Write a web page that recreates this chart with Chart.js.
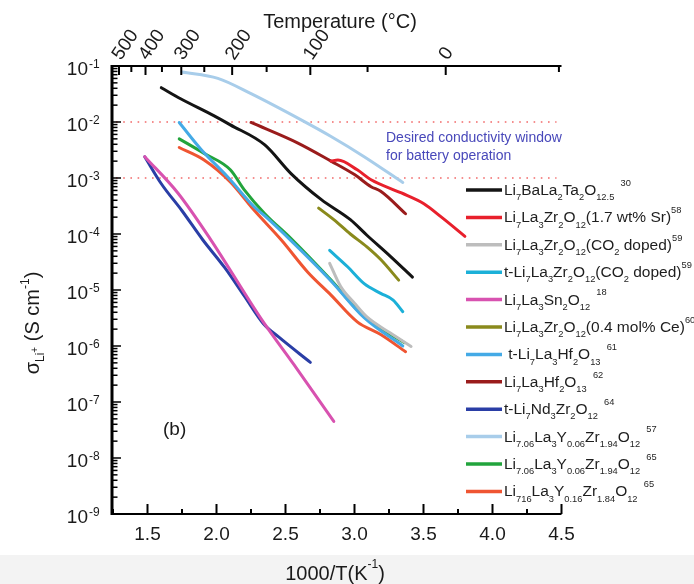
<!DOCTYPE html>
<html>
<head>
<meta charset="utf-8">
<script src="https://cdn.jsdelivr.net/npm/chart.js@4.4.0/dist/chart.umd.min.js"></script>
<style>
  html, body { margin: 0; padding: 0; background: #fff; }
  #wrap { width: 694px; height: 584px; }
</style>
</head>
<body>
<div id="wrap"><canvas id="chart" width="694" height="584"></canvas></div>
<script>
// axis ranges and ticks
const xMin = 1.25, xMax = 4.5;
const yMin = 1e-9, yMax = 1e-1;
const xTickMajor = [1.5, 2.0, 2.5, 3.0, 3.5, 4.0, 4.5];
const xTickLabels = ['1.5', '2.0', '2.5', '3.0', '3.5', '4.0', '4.5'];
const xTickMinor = [1.25, 1.75, 2.25, 2.75, 3.25, 3.75, 4.25];
const yDecades = [-9, -8, -7, -6, -5, -4, -3, -2, -1];
const tempMajor = [500, 400, 300, 200, 100, 0];
const tempMinor = [450, 350, 250, 150, 50, -50];
const windowLevels = [1e-2, 1e-3];

// series (x = 1000/T, y = conductivity S/cm)
const xBaTa = [1.60, 1.74, 1.98, 2.10, 2.35, 2.54, 2.76, 2.97, 3.09, 3.26, 3.42];
const yBaTa = [4.1e-2, 2.6e-2, 1.3e-2, 8.9e-3, 3.9e-3, 1.2e-3, 4.1e-4, 1.8e-4, 9.5e-5, 4.0e-5, 1.7e-5];
const xSr = [2.83, 2.88, 3.02, 3.12, 3.34, 3.50, 3.63, 3.80];
const ySr = [2.0e-3, 2.1e-3, 1.4e-3, 9.3e-4, 5.4e-4, 3.5e-4, 2.0e-4, 9.1e-5];
const xCO2 = [2.82, 2.90, 3.00, 3.09, 3.26, 3.41];
const yCO2 = [3.0e-5, 1.15e-5, 5.8e-6, 3.3e-6, 1.7e-6, 9.8e-7];
const xTCO2 = [2.82, 2.95, 3.07, 3.19, 3.28, 3.35];
const yTCO2 = [5.1e-5, 2.6e-5, 1.3e-5, 8.7e-6, 6.6e-6, 4.1e-6];
const xSn = [1.48, 1.72, 1.96, 2.33, 2.56, 2.85];
const ySn = [2.4e-3, 5.4e-4, 7.8e-5, 2.9e-6, 4.7e-7, 4.5e-8];
const xCe = [2.74, 2.85, 2.97, 3.09, 3.19, 3.32];
const yCe = [2.9e-4, 1.8e-4, 1.0e-4, 5.9e-5, 3.5e-5, 1.5e-5];
const xTHf = [1.73, 1.89, 2.08, 2.27, 2.35, 2.54, 2.83, 3.07, 3.35];
const yTHf = [9.8e-3, 3.2e-3, 1.05e-3, 3.1e-4, 2.1e-4, 7.6e-5, 1.45e-5, 3.2e-6, 1.0e-6];
const xHf = [2.25, 2.59, 2.83, 3.00, 3.12, 3.19, 3.37];
const yHf = [9.8e-3, 4.2e-3, 2.0e-3, 1.15e-3, 7.0e-4, 5.8e-4, 2.3e-4];
const xNd = [1.48, 1.60, 1.75, 1.90, 2.06, 2.20, 2.34, 2.45, 2.68];
const yNd = [2.4e-3, 7.9e-4, 2.6e-4, 7.9e-5, 2.5e-5, 7.9e-6, 2.5e-6, 1.45e-6, 5.1e-7];
const xY57 = [1.75, 2.01, 2.25, 2.61, 2.83, 3.07, 3.35];
const yY57 = [7.8e-2, 6.0e-2, 3.2e-2, 1.1e-2, 5.5e-3, 2.4e-3, 8.3e-4];
const xY65 = [1.73, 1.91, 2.10, 2.20, 2.35, 2.54, 2.83, 3.07, 3.36];
const yY65 = [5.0e-3, 2.75e-3, 1.4e-3, 6.2e-4, 2.3e-4, 8.3e-5, 1.5e-5, 3.3e-6, 1.15e-6];
const xY16 = [1.73, 1.91, 2.10, 2.27, 2.47, 2.66, 2.83, 3.02, 3.19, 3.37];
const yY16 = [3.5e-3, 2.1e-3, 8.5e-4, 2.7e-4, 7.8e-5, 2.1e-5, 8.1e-6, 2.7e-6, 1.6e-6, 7.9e-7];

const seriesX = [xBaTa, xSr, xCO2, xTCO2, xSn, xCe, xTHf, xHf, xNd, xY57, xY65, xY16];
const seriesY = [yBaTa, ySr, yCO2, yTCO2, ySn, yCe, yTHf, yHf, yNd, yY57, yY65, yY16];
const seriesColors = ['#141414', '#e8202c', '#bdbdbd', '#1cb0d8', '#d852b0', '#8a8a1c',
                      '#44aae6', '#9a1c1c', '#2a3ea6', '#a8cdea', '#22a43c', '#ef5532'];
// legend text, _{} subscript, ^{} superscript
const legendText = [
  'Li_{7}BaLa_{2}Ta_{2}O_{12.5}^{30}',
  'Li_{7}La_{3}Zr_{2}O_{12}(1.7 wt% Sr)^{58}',
  'Li_{7}La_{3}Zr_{2}O_{12}(CO_{2} doped)^{59}',
  't-Li_{7}La_{3}Zr_{2}O_{12}(CO_{2} doped)^{59}',
  'Li_{7}La_{3}Sn_{2}O_{12}^{18}',
  'Li_{7}La_{3}Zr_{2}O_{12}(0.4 mol% Ce)^{60}',
  ' t-Li_{7}La_{3}Hf_{2}O_{13}^{61}',
  'Li_{7}La_{3}Hf_{2}O_{13}^{62}',
  't-Li_{7}Nd_{3}Zr_{2}O_{12}^{64}',
  'Li_{7.06}La_{3}Y_{0.06}Zr_{1.94}O_{12}^{57}',
  'Li_{7.06}La_{3}Y_{0.06}Zr_{1.94}O_{12}^{65}',
  'Li_{716}La_{3}Y_{0.16}Zr_{1.84}O_{12}^{65}'
];

const FONT = '"Liberation Sans", Arial, sans-serif';

function parseRich(str, size) {
  const segs = [];
  let buf = '', i = 0;
  while (i < str.length) {
    const c = str[i];
    if ((c === '_' || c === '^') && str[i + 1] === '{') {
      if (buf) { segs.push({ t: buf, s: size, dy: 0 }); buf = ''; }
      const end = str.indexOf('}', i);
      const prev = segs[segs.length - 1];
      const gap = (c === '^' && prev && prev.kind === '_') ? size * 0.4 : 0;
      segs.push({ t: str.slice(i + 2, end), s: size * 0.6, dy: c === '_' ? size * 0.33 : -size * 0.6, kind: c, gap: gap });
      i = end + 1;
    } else { buf += c; i++; }
  }
  if (buf) segs.push({ t: buf, s: size, dy: 0 });
  return segs;
}

function drawRich(ctx, segs, x, y, align) {
  let w = 0;
  segs.forEach(sg => { ctx.font = sg.s + 'px ' + FONT; sg.w = ctx.measureText(sg.t).width; w += sg.w + (sg.gap || 0); });
  let cx = align === 'center' ? x - w / 2 : x;
  ctx.textAlign = 'left';
  ctx.textBaseline = 'alphabetic';
  segs.forEach(sg => {
    cx += sg.gap || 0;
    ctx.font = sg.s + 'px ' + FONT;
    ctx.fillText(sg.t, cx, y + sg.dy);
    cx += sg.w;
  });
}

const decor = {
  id: 'decor',
  beforeDraw(chart) {
    const ctx = chart.ctx;
    ctx.save();
    ctx.fillStyle = '#ffffff';
    ctx.fillRect(0, 0, chart.width, chart.height);
    ctx.fillStyle = '#f3f3f3';
    ctx.fillRect(0, 555, chart.width, chart.height - 555);
    ctx.restore();
  },
  beforeDatasetsDraw(chart) {
    const ctx = chart.ctx, a = chart.chartArea, ys = chart.scales.y;
    ctx.save();
    ctx.strokeStyle = '#f26a6a';
    ctx.lineWidth = 1.5;
    ctx.setLineDash([1.6, 5.6]);
    windowLevels.forEach(v => {
      const py = ys.getPixelForValue(v);
      ctx.beginPath(); ctx.moveTo(a.left + 3, py); ctx.lineTo(a.right - 5, py); ctx.stroke();
    });
    ctx.restore();
  },
  afterDatasetsDraw(chart) {
    const ctx = chart.ctx, a = chart.chartArea, xs = chart.scales.x, ys = chart.scales.y;
    ctx.save();
    ctx.strokeStyle = '#000';
    ctx.fillStyle = '#1a1a1a';

    // axis lines
    ctx.lineWidth = 3;
    ctx.beginPath(); ctx.moveTo(a.left - 1, a.top - 1); ctx.lineTo(a.left - 1, a.bottom + 1); ctx.stroke();
    ctx.lineWidth = 2;
    ctx.beginPath(); ctx.moveTo(a.left - 2, a.bottom); ctx.lineTo(a.right, a.bottom); ctx.stroke();
    ctx.beginPath(); ctx.moveTo(a.left - 2, a.top); ctx.lineTo(a.right, a.top); ctx.stroke();

    // y ticks (inward)
    ctx.lineWidth = 1.5;
    yDecades.forEach(d => {
      const py = ys.getPixelForValue(Math.pow(10, d));
      ctx.beginPath(); ctx.moveTo(a.left, py); ctx.lineTo(a.left + 8, py); ctx.stroke();
      if (d < -1) {
        for (let k = 2; k <= 9; k++) {
          const pm = ys.getPixelForValue(k * Math.pow(10, d));
          ctx.beginPath(); ctx.moveTo(a.left, pm); ctx.lineTo(a.left + 4.5, pm); ctx.stroke();
        }
      }
      // label 10^d
      ctx.font = '19px ' + FONT;
      ctx.textAlign = 'right'; ctx.textBaseline = 'alphabetic';
      ctx.fillText('10', 88, py + 9);
      ctx.font = '12px ' + FONT;
      ctx.textAlign = 'left';
      ctx.fillText('-' + Math.abs(d), 89, py + 2);
    });

    // bottom ticks (inward)
    ctx.lineWidth = 2;
    xTickMajor.forEach((v, i) => {
      const px = xs.getPixelForValue(v);
      ctx.beginPath(); ctx.moveTo(px, a.bottom); ctx.lineTo(px, a.bottom - 10); ctx.stroke();
      ctx.font = '19px ' + FONT;
      ctx.textAlign = 'center'; ctx.textBaseline = 'alphabetic';
      ctx.fillText(xTickLabels[i], px, 540);
    });
    xTickMinor.forEach(v => {
      const px = xs.getPixelForValue(v);
      ctx.beginPath(); ctx.moveTo(px, a.bottom); ctx.lineTo(px, a.bottom - 5); ctx.stroke();
    });

    // top temperature axis
    tempMajor.forEach(t => {
      const px = xs.getPixelForValue(1000 / (t + 273.15));
      ctx.beginPath(); ctx.moveTo(px, a.top); ctx.lineTo(px, a.top + 9); ctx.stroke();
      ctx.save();
      ctx.translate(px + 2, 61);
      ctx.rotate(-56 * Math.PI / 180);
      ctx.font = '19px ' + FONT;
      ctx.textAlign = 'left'; ctx.textBaseline = 'alphabetic';
      ctx.fillText(String(t), 0, 0);
      ctx.restore();
    });
    tempMinor.forEach(t => {
      const px = xs.getPixelForValue(1000 / (t + 273.15));
      ctx.beginPath(); ctx.moveTo(px, a.top); ctx.lineTo(px, a.top + 6); ctx.stroke();
    });

    // titles
    ctx.fillStyle = '#1a1a1a';
    drawRich(ctx, [{ t: 'Temperature (°C)', s: 20, dy: 0 }], 340, 28, 'center');
    drawRich(ctx, parseRich('1000/T(K^{-1})', 20), 335, 580, 'center');
    ctx.save();
    ctx.translate(39, 323);
    ctx.rotate(-Math.PI / 2);
    drawRich(ctx, [
      { t: 'σ', s: 20, dy: 0 }, { t: 'Li', s: 12, dy: 5 }, { t: '+', s: 10, dy: -1 },
      { t: ' (S cm', s: 20, dy: 0 }, { t: '-1', s: 12, dy: -10 }, { t: ')', s: 20, dy: 0 }
    ], 0, 0, 'center');
    ctx.restore();

    // annotations
    ctx.fillStyle = '#4848ba';
    ctx.font = '14px ' + FONT;
    ctx.textAlign = 'left'; ctx.textBaseline = 'alphabetic';
    ctx.fillText('Desired conductivity window', 386, 142);
    ctx.fillText('for battery operation', 386, 160);
    ctx.fillStyle = '#1a1a1a';
    ctx.font = '19px ' + FONT;
    ctx.fillText('(b)', 163, 435);

    // legend
    legendText.forEach((lbl, i) => {
      const ly = 190 + i * 27.4;
      ctx.strokeStyle = seriesColors[i];
      ctx.lineWidth = 3.5;
      ctx.setLineDash([]);
      ctx.beginPath(); ctx.moveTo(466, ly); ctx.lineTo(502, ly); ctx.stroke();
      ctx.fillStyle = '#1e1e1e';
      drawRich(ctx, parseRich(lbl, 15.5), 504, ly + 5, 'left');
    });
    ctx.restore();
  }
};

const datasets = seriesX.map((xsArr, i) => ({
  label: legendText[i].replace(/[_^]\{([^}]*)\}/g, '$1'),
  data: xsArr.map((x, j) => ({ x: x, y: seriesY[i][j] })),
  borderColor: seriesColors[i],
  backgroundColor: seriesColors[i],
  borderWidth: 3,
  pointRadius: 0,
  cubicInterpolationMode: 'monotone',
  borderCapStyle: 'round',
  fill: false
}));

new Chart(document.getElementById('chart'), {
  type: 'line',
  data: { datasets: datasets },
  options: {
    responsive: false,
    animation: false,
    devicePixelRatio: 1,
    layout: { padding: { left: 113, right: 132.5, top: 66, bottom: 70 } },
    scales: {
      x: { type: 'linear', min: xMin, max: xMax, display: false },
      y: { type: 'logarithmic', min: yMin, max: yMax, display: false }
    },
    plugins: { legend: { display: false }, tooltip: { enabled: false } }
  },
  plugins: [decor]
});
</script>
</body>
</html>
